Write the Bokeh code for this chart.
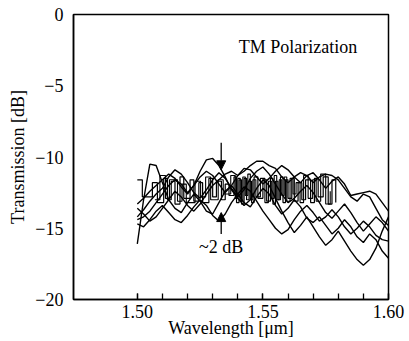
from bokeh.plotting import figure
from bokeh.models import Range1d, FixedTicker, Arrow, NormalHead, Label
from bokeh.embed import file_html
from bokeh.resources import INLINE

wavelength = [1.5000, 1.5025, 1.5050, 1.5075, 1.5100, 1.5125, 1.5150, 1.5175, 1.5200, 1.5225,
              1.5250, 1.5275, 1.5300, 1.5325, 1.5350, 1.5375, 1.5400, 1.5425, 1.5450, 1.5475,
              1.5500, 1.5525, 1.5550, 1.5575, 1.5600, 1.5625, 1.5650, 1.5675, 1.5700, 1.5725,
              1.5750, 1.5775, 1.5800, 1.5825, 1.5850, 1.5875, 1.5900, 1.5925, 1.5950, 1.5975,
              1.6000]

trace_1 = [-16.1, -13.0, -10.5, -10.6, -11.8, -13.0, -13.6, -13.9, -13.2, -12.6,
           -13.1, -13.8, -14.0, -13.2, -12.4, -12.0, -12.6, -13.2, -13.5, -12.8,
           -12.2, -12.6, -13.4, -14.0, -13.6, -13.0, -13.5, -14.3, -14.6, -14.2,
           -14.8, -15.4, -15.0, -14.4, -14.9, -15.6, -16.0, -15.4, -15.8, -16.6,
           -17.1]
trace_2 = [-14.4, -14.2, -13.8, -13.2, -12.6, -12.0, -11.6, -11.9, -12.5, -12.0,
           -11.0, -10.2, -10.1, -10.6, -11.4, -12.3, -12.9, -13.4, -13.0, -12.2,
           -11.6, -12.0, -12.9, -13.8, -14.6, -15.3, -14.8, -14.2, -14.9, -15.6,
           -16.2, -15.8, -15.2, -15.9, -16.6, -17.2, -17.6, -17.2, -16.4, -15.2,
           -14.2]
trace_3 = [-13.6, -14.0, -14.5, -14.2, -13.6, -13.0, -12.4, -12.8, -13.4, -13.8,
           -13.3, -12.6, -12.0, -11.6, -11.2, -11.0, -11.3, -11.0, -10.6, -10.3,
           -10.3, -10.6, -10.8, -11.4, -11.8, -11.4, -11.1, -11.3, -11.8, -11.4,
           -11.2, -11.3, -11.6, -12.2, -12.8, -13.1, -12.6, -12.8, -13.6, -14.4,
           -14.8]
trace_4 = [-14.7, -14.9, -14.4, -13.8, -13.4, -13.9, -14.4, -14.6, -14.1, -13.5,
           -13.0, -13.4, -14.1, -14.5, -14.0, -13.2, -12.6, -12.1, -12.4, -13.1,
           -13.8, -14.4, -15.0, -15.4, -15.1, -14.4, -13.8, -13.4, -13.9, -14.5,
           -14.2, -13.7, -14.2, -14.9, -15.4, -15.0, -14.5, -14.9, -15.5, -15.8,
           -15.9]
trace_5 = [-14.2, -13.7, -13.1, -12.6, -12.2, -11.4, -10.9, -11.2, -11.8, -12.5,
           -12.9, -12.3, -11.6, -11.1, -11.5, -12.2, -12.8, -12.3, -11.5, -11.0,
           -10.7, -11.2, -11.9, -12.6, -13.2, -12.9, -12.4, -12.0, -12.5, -13.2,
           -13.9, -14.3, -13.8, -13.3, -13.9, -14.6, -15.2, -14.7, -14.2, -14.6,
           -15.2]
trace_6 = [-13.3, -12.9, -12.4, -12.0, -11.6, -11.2, -11.5, -12.1, -12.6, -12.0,
           -11.4, -11.0, -11.3, -11.9, -12.5, -12.0, -11.3, -10.8, -10.9, -11.4,
           -11.9, -11.5, -11.0, -10.6, -10.9, -11.4, -11.8, -11.3, -11.1, -11.6,
           -12.2, -11.7, -11.4, -11.9, -12.7, -12.6, -12.5, -12.4, -12.6, -13.2,
           -13.8]

step_wavelength = [1.5000, 1.5020, 1.5060, 1.5080, 1.5105, 1.5120, 1.5135, 1.5150, 1.5170, 1.5185,
                   1.5210, 1.5225, 1.5245, 1.5260, 1.5285, 1.5300, 1.5315, 1.5335, 1.5350, 1.5365,
                   1.5385, 1.5395, 1.5405, 1.5415, 1.5425, 1.5435, 1.5445, 1.5455, 1.5465, 1.5480,
                   1.5500, 1.5515, 1.5530, 1.5540, 1.5550, 1.5560, 1.5570, 1.5580, 1.5590, 1.5600,
                   1.5615, 1.5625, 1.5640, 1.5655, 1.5670, 1.5690, 1.5705, 1.5720, 1.5740, 1.5760,
                   1.5775, 1.5790]
step_trace = [-11.6, -12.8, -11.8, -13.2, -11.5, -13.0, -11.7, -13.3, -11.4, -12.9,
              -11.6, -13.1, -11.8, -13.2, -11.5, -12.8, -11.7, -13.0, -11.9, -12.7,
              -11.4, -13.2, -11.6, -13.3, -11.5, -13.0, -11.7, -13.2, -11.4, -12.9,
              -11.6, -13.1, -11.5, -13.3, -11.7, -13.0, -11.4, -13.2, -11.6, -12.9,
              -11.5, -13.1, -11.8, -13.0, -11.6, -13.2, -11.5, -12.8, -11.4, -13.3,
              -11.6, -13.2]

step2_wavelength = [1.5070, 1.5090, 1.5112, 1.5128, 1.5160, 1.5178, 1.5195, 1.5230, 1.5252, 1.5272,
                    1.5292, 1.5322, 1.5342, 1.5372, 1.5390, 1.5400, 1.5410, 1.5420, 1.5430, 1.5440,
                    1.5450, 1.5460, 1.5472, 1.5490, 1.5508, 1.5522, 1.5535, 1.5545, 1.5555, 1.5565,
                    1.5575, 1.5585, 1.5595, 1.5608, 1.5620, 1.5632, 1.5648, 1.5662, 1.5680, 1.5698,
                    1.5712, 1.5730, 1.5750, 1.5768]
step2_trace = [-13.0, -11.3, -12.9, -11.6, -13.1, -11.9, -13.2, -11.7, -12.8, -11.4,
               -13.0, -11.6, -12.6, -11.3, -12.9, -11.5, -13.1, -11.4, -12.7, -11.2,
               -13.0, -11.6, -12.8, -11.5, -13.2, -11.7, -12.9, -11.3, -13.0, -11.6,
               -12.7, -11.4, -13.1, -11.5, -12.6, -11.8, -13.2, -11.3, -12.9, -11.6,
               -13.1, -11.2, -13.3, -12.4]

x_major_ticks = [1.50, 1.55, 1.60]
x_minor_ticks = [1.50, 1.51, 1.52, 1.53, 1.54, 1.55, 1.56, 1.57, 1.58, 1.59, 1.60]
y_ticks = [-20, -15, -10, -5, 0]
y_tick_labels = ["\u221220", "\u221215", "\u221210", "\u22125", "0"]

FONT = "Liberation Serif"

p = figure(width=409, height=341, output_backend="svg", toolbar_location=None,
           x_range=Range1d(1.4746, 1.60), y_range=Range1d(-20, 0),
           min_border_left=73, min_border_right=21, min_border_top=14, min_border_bottom=42)
p.grid.visible = False
p.background_fill_color = "white"
p.border_fill_color = "white"
p.outline_line_color = "black"
p.outline_line_width = 1.5

for tr in [trace_1, trace_2, trace_3, trace_4, trace_5, trace_6]:
    p.line(wavelength, tr, line_color="black", line_width=1.4)
p.step(step_wavelength, step_trace, mode="after", line_color="black", line_width=1.2)
p.step(step2_wavelength, step2_trace, mode="after", line_color="black", line_width=1.1)

# annotation arrows
p.add_layout(Arrow(end=NormalHead(size=9, fill_color="black", line_color="black"),
                   x_start=1.5334, y_start=-9.0, x_end=1.5334, y_end=-10.9,
                   line_color="black", line_width=1.3))
p.add_layout(Arrow(end=NormalHead(size=9, fill_color="black", line_color="black"),
                   x_start=1.5334, y_start=-15.4, x_end=1.5334, y_end=-13.9,
                   line_color="black", line_width=1.3))
p.add_layout(Label(x=1.5334, y=-16.35, text="~2 dB", text_align="center", text_baseline="middle",
                   text_font=FONT, text_font_size="18px", text_color="black"))
p.add_layout(Label(x=1.5404, y=-2.3, text="TM Polarization", text_align="left", text_baseline="middle",
                   text_font=FONT, text_font_size="18px", text_color="black"))

xa = p.xaxis[0]
xa.ticker = FixedTicker(ticks=x_major_ticks, minor_ticks=x_minor_ticks)
xa.major_label_overrides = {t: f"{t:.2f}" for t in x_major_ticks}
xa.major_tick_in = 6
xa.major_tick_out = 0
xa.minor_tick_in = 6
xa.minor_tick_out = 0
xa.major_tick_line_width = 1.3
xa.minor_tick_line_width = 1.3
xa.axis_line_width = 1.5
xa.axis_label = "Wavelength [\u03bcm]"
xa.axis_label_standoff = -3
xa.major_label_standoff = 5
ya = p.yaxis[0]
ya.ticker = FixedTicker(ticks=y_ticks)
ya.major_label_overrides = dict(zip(y_ticks, y_tick_labels))
ya.major_tick_in = 0
ya.major_tick_out = 0
ya.minor_tick_in = 0
ya.minor_tick_out = 0
ya.axis_line_width = 1.5
ya.axis_label = "Transmission [dB]"
ya.axis_label_standoff = 4
ya.major_label_standoff = 10

for ax in (xa, ya):
    ax.major_label_text_font = FONT
    ax.major_label_text_font_size = "18px"
    ax.major_label_text_color = "black"
    ax.axis_label_text_font = FONT
    ax.axis_label_text_font_size = "18px"
    ax.axis_label_text_font_style = "normal"
    ax.axis_label_text_color = "black"
    ax.axis_line_color = "black"

open("out.html", "w").write(file_html(p, INLINE))
